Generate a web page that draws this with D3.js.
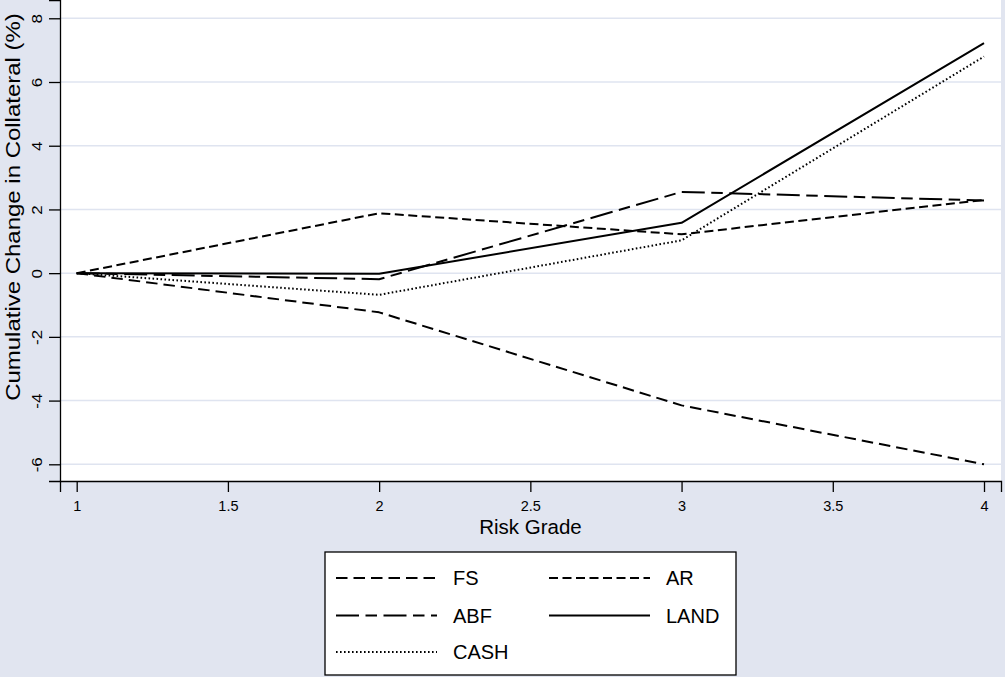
<!DOCTYPE html>
<html>
<head>
<meta charset="utf-8">
<script src="https://cdn.jsdelivr.net/npm/d3@7"></script>
<style>
  html, body { margin: 0; padding: 0; background: #e1e5f0; }
  svg { display: block; }
  text { font-family: "Liberation Sans", Arial, Helvetica, sans-serif; fill: #000; }
</style>
</head>
<body>
<svg id="chart" width="1005" height="677"></svg>
<script>
// ---- data ----
const riskGrades = [1, 2, 3, 4];
const seriesNames = ["FS", "AR", "ABF", "LAND", "CASH"];
const fsValues   = [0, -1.23, -4.15, -6.00];
const arValues   = [0, 1.88, 1.22, 2.30];
const abfValues  = [0, -0.19, 2.55, 2.28];
const landValues = [0, -0.02, 1.58, 7.22];
const cashValues = [0, -0.68, 1.03, 6.80];
const xTicks = [1, 1.5, 2, 2.5, 3, 3.5, 4];
const yTicks = [-6, -4, -2, 0, 2, 4, 6, 8];
const xTitle = "Risk Grade";
const yTitle = "Cumulative Change in Collateral (%)";

const dashes = {
  FS: "11.5,6",
  AR: "9,4.5",
  ABF: "23,6.5,11.5,6.5",
  LAND: null,
  CASH: "1.6,2.4"
};
const valuesByName = { FS: fsValues, AR: arValues, ABF: abfValues, LAND: landValues, CASH: cashValues };

// ---- layout ----
const svg = d3.select("#chart");
const W = 1005, H = 677;
const plot = { left: 60, right: 1001, top: 0, bottom: 481 };
const vStretch = 1.17; // rotated text is drawn a bit wider along its length

svg.append("rect").attr("width", W).attr("height", H).attr("fill", "#e1e5f0");
svg.append("rect")
  .attr("x", plot.left).attr("y", plot.top)
  .attr("width", plot.right - plot.left).attr("height", plot.bottom - plot.top)
  .attr("fill", "#ffffff");

const x = d3.scaleLinear().domain([0.9448, 4.0562]).range([plot.left, plot.right]);
const y = d3.scaleLinear().domain([-6.524, 8.574]).range([plot.bottom, plot.top]);

// gridlines
svg.append("g").selectAll("line").data(yTicks).join("line")
  .attr("x1", plot.left).attr("x2", plot.right)
  .attr("y1", d => y(d)).attr("y2", d => y(d))
  .attr("stroke", "#dfe4f0").attr("stroke-width", 1.5);

// axes
const fmt = d => String(d);
const xAxis = d3.axisBottom(x).tickValues(xTicks).tickSize(11).tickPadding(9).tickFormat(fmt);
const gx = svg.append("g").attr("transform", `translate(0,${plot.bottom})`).call(xAxis);
gx.attr("font-family", null).attr("font-size", null);
gx.select(".domain").attr("stroke", "#000").attr("stroke-width", 1.3);
gx.selectAll(".tick line").attr("stroke", "#000").attr("stroke-width", 1.3);
gx.selectAll(".tick text").attr("font-size", 14.5);

const yAxis = d3.axisLeft(y).tickValues(yTicks).tickSize(11).tickPadding(6).tickFormat(fmt);
const gy = svg.append("g").attr("transform", `translate(${plot.left},0)`).call(yAxis);
gy.attr("font-family", null).attr("font-size", null);
gy.select(".domain").attr("stroke", "#000").attr("stroke-width", 1.3);
gy.selectAll(".tick line").attr("stroke", "#000").attr("stroke-width", 1.3);
gy.selectAll(".tick text")
  .attr("font-size", 14.5)
  .attr("text-anchor", "middle")
  .attr("x", 0).attr("y", 0)
  .attr("dy", "0.36em")
  .attr("transform", `translate(-23,0) rotate(-90) scale(${vStretch},1)`);

// titles
svg.append("text")
  .attr("x", (plot.left + plot.right) / 2).attr("y", 533.5)
  .attr("text-anchor", "middle").attr("font-size", 20.5)
  .text(xTitle);
svg.append("text")
  .attr("transform", `translate(20,207) rotate(-90) scale(${vStretch},1)`)
  .attr("text-anchor", "middle").attr("font-size", 20.5)
  .text(yTitle);

// lines
const line = d3.line().x((d, i) => x(riskGrades[i])).y(d => y(d));
const gLines = svg.append("g");
seriesNames.forEach(name => {
  gLines.append("path")
    .datum(valuesByName[name])
    .attr("d", line)
    .attr("fill", "none")
    .attr("stroke", "#000")
    .attr("stroke-width", 2)
    .attr("stroke-linejoin", "round")
    .attr("stroke-dasharray", dashes[name]);
});

// legend
const legend = { left: 325, top: 552, width: 411, height: 123 };
svg.append("rect")
  .attr("x", legend.left).attr("y", legend.top)
  .attr("width", legend.width).attr("height", legend.height)
  .attr("fill", "#fff").attr("stroke", "#000").attr("stroke-width", 1.3);
const legendLayout = [
  { name: "FS", col: 0, row: 0 },
  { name: "AR", col: 1, row: 0 },
  { name: "ABF", col: 0, row: 1 },
  { name: "LAND", col: 1, row: 1 },
  { name: "CASH", col: 0, row: 2 }
];
const colX = [336, 549];
const rowY = [578, 615.5, 652];
const gl = svg.append("g");
legendLayout.forEach(item => {
  const lx = colX[item.col], ly = rowY[item.row];
  gl.append("line")
    .attr("x1", lx).attr("x2", lx + 101)
    .attr("y1", ly).attr("y2", ly)
    .attr("stroke", "#000").attr("stroke-width", 2)
    .attr("stroke-dasharray", dashes[item.name]);
  gl.append("text")
    .attr("x", lx + 117).attr("y", ly)
    .attr("dy", "0.36em")
    .attr("font-size", 20)
    .text(item.name);
});
</script>
</body>
</html>
